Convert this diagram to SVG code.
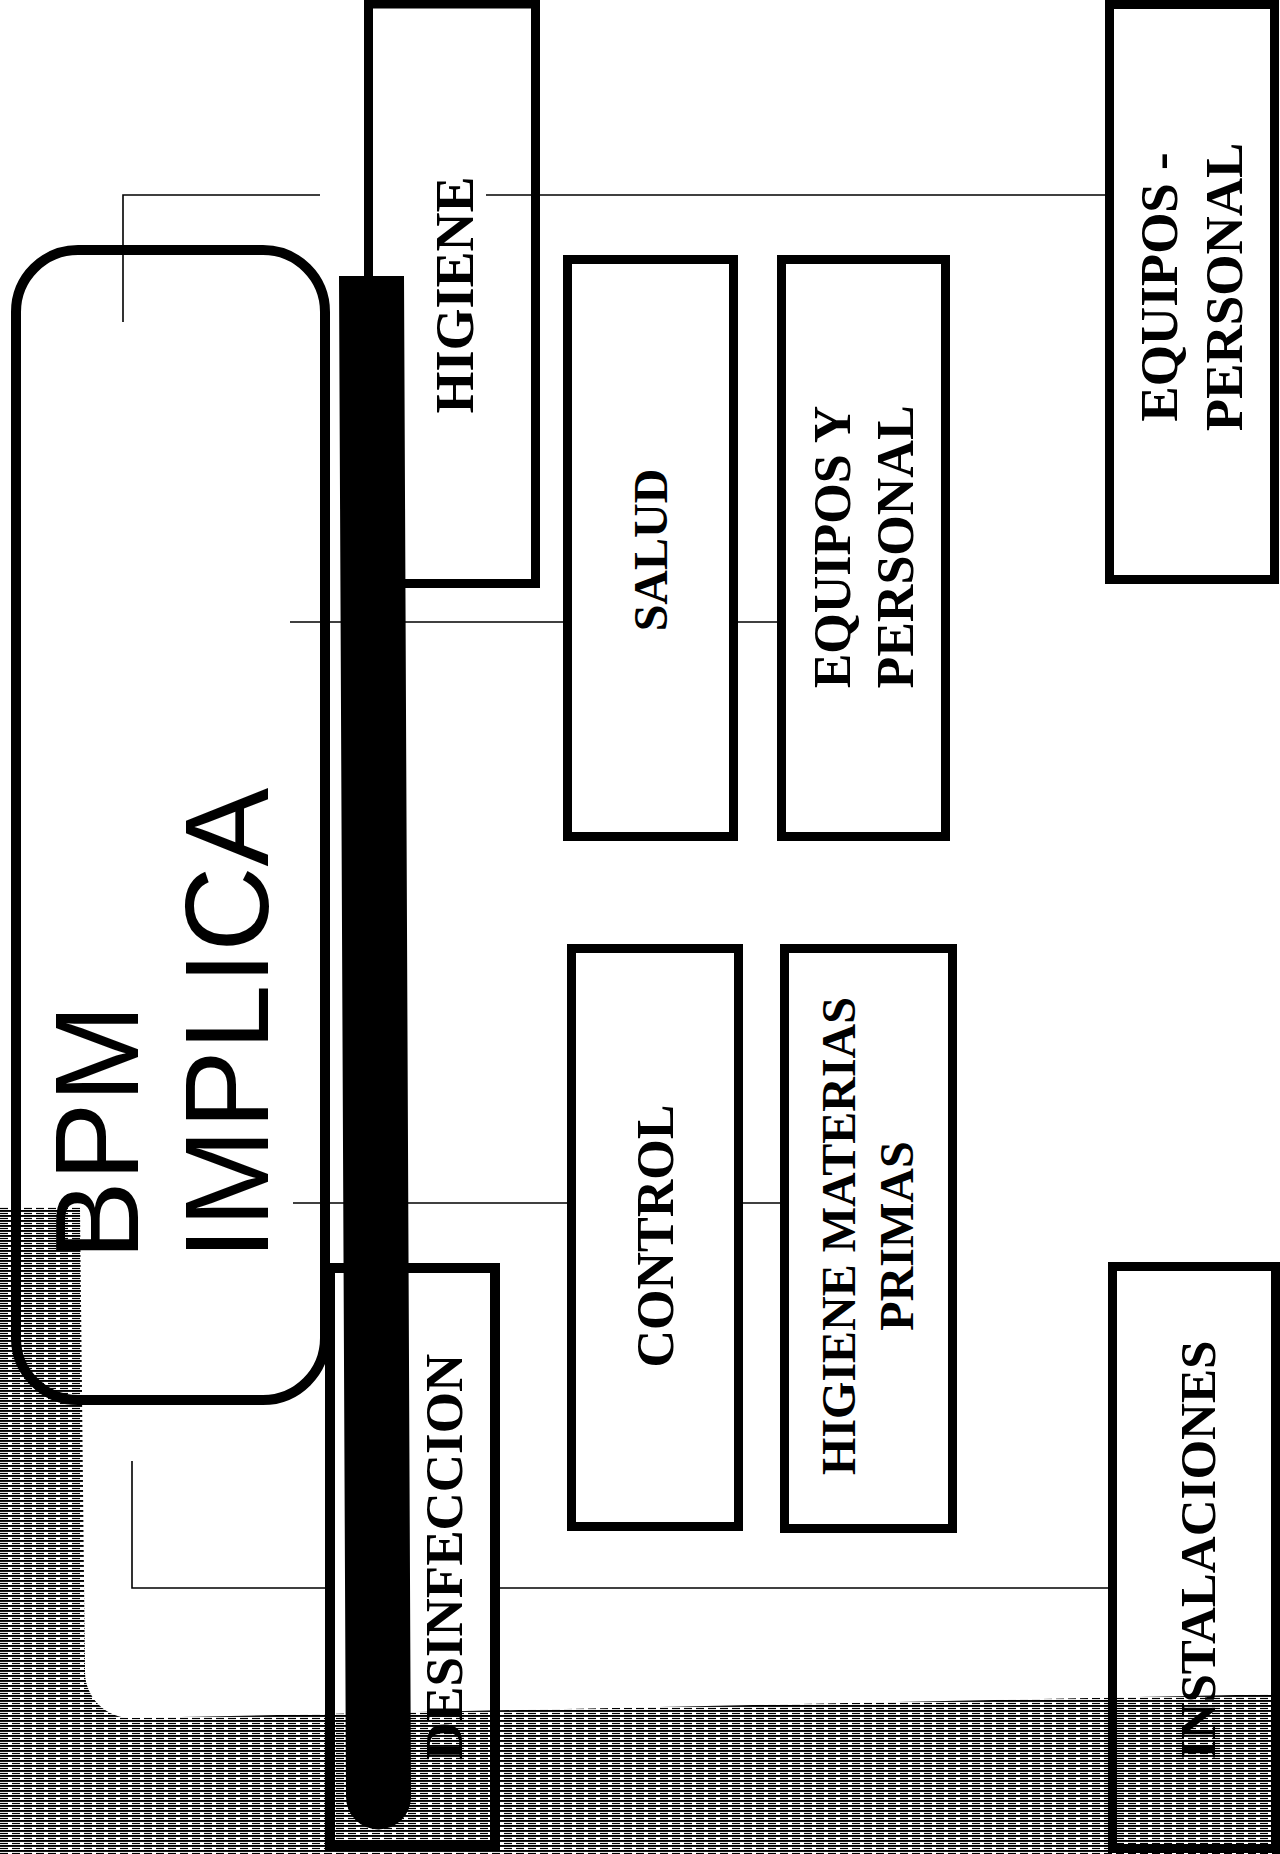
<svg xmlns="http://www.w3.org/2000/svg" width="1280" height="1854" viewBox="0 0 1280 1854">
<defs>
<pattern id="hatch" width="12" height="5" patternUnits="userSpaceOnUse">
<rect width="12" height="5" fill="#fff"/>
<rect x="0" y="0" width="12" height="1.9" fill="#000"/>
<rect x="0" y="2.9" width="8" height="1.2" fill="#000"/>
</pattern>
<style>
.box{fill:none;stroke:#000;stroke-width:9}
.lbl{font-family:"Liberation Serif","Times New Roman",serif;font-weight:bold;fill:#000;text-anchor:middle}
.conn{fill:none;stroke:#000;stroke-width:1.6}
.title{font-family:"Liberation Sans",Arial,sans-serif;font-size:118px;fill:#000}
</style>
</defs>
<g id="background">
<rect width="1280" height="1854" fill="#fff"/>
<path d="M0,1207 H80 L85,1672 A46,46 0 0 0 131,1718 L1280,1694 V1854 H0 Z" fill="url(#hatch)"/>
</g>
<g id="connectors">
<path class="conn" d="M123,322 V195 H320"/>
<path class="conn" d="M486,195 H1105"/>
<path class="conn" d="M290,622 H563"/>
<path class="conn" d="M738,622 H777"/>
<path class="conn" d="M293,1203 H567"/>
<path class="conn" d="M743,1203 H780"/>
<path class="conn" d="M132,1461 V1588 H325"/>
<path class="conn" d="M500,1588 H1108"/>
</g>
<g id="node-bpm">
<rect x="16" y="250" width="309" height="1150" rx="62" ry="62" fill="none" stroke="#000" stroke-width="10"/>
<text class="title" transform="translate(138,1260) rotate(-90)">BPM</text>
<text class="title" transform="translate(268,1260) rotate(-90)">IMPLICA</text>
</g>
<g id="node-higiene">
<rect class="box" x="368.5" y="4" width="167" height="579.5"/>
<text class="lbl" font-size="54" transform="translate(473,295) rotate(-90)">HIGIENE</text>
</g>
<g id="node-equipos-personal">
<rect class="box" x="1109.5" y="4.5" width="165" height="575"/>
<text class="lbl" font-size="53" transform="translate(1177,287) rotate(-90)"><tspan x="0" y="0">EQUIPOS -</tspan><tspan x="0" dy="65">PERSONAL</tspan></text>
</g>
<g id="node-salud">
<rect class="box" x="567.5" y="259.5" width="166" height="577"/>
<text class="lbl" font-size="48" transform="translate(667,550) rotate(-90)">SALUD</text>
</g>
<g id="node-equipos-y-personal">
<rect class="box" x="781.5" y="259.5" width="164" height="577"/>
<text class="lbl" font-size="52" transform="translate(850,547) rotate(-90)"><tspan x="0" y="0">EQUIPOS Y</tspan><tspan x="0" dy="63">PERSONAL</tspan></text>
</g>
<g id="node-control">
<rect class="box" x="571.5" y="948.5" width="167" height="578"/>
<text class="lbl" font-size="52" transform="translate(673,1236) rotate(-90)">CONTROL</text>
</g>
<g id="node-higiene-materias">
<rect class="box" x="784.5" y="948.5" width="168" height="580"/>
<text class="lbl" font-size="48" transform="translate(855,1236) rotate(-90)"><tspan x="0" y="0">HIGIENE MATERIAS</tspan><tspan x="0" dy="58">PRIMAS</tspan></text>
</g>
<g id="node-desinfeccion">
<rect x="330" y="1268" width="165" height="578" fill="none" stroke="#000" stroke-width="10"/>
<text class="lbl" font-size="53" transform="translate(462,1557) rotate(-90)">DESINFECCION</text>
</g>
<g id="node-instalaciones">
<rect class="box" x="1112.5" y="1266.5" width="163" height="582"/>
<text class="lbl" font-size="51" transform="translate(1215,1550) rotate(-90)">INSTALACIONES</text>
</g>
<g id="bar">
<path d="M339,276 H404 L411,1797 A32.5,32.5 0 0 1 346,1797 Z" fill="#000"/>
</g>
</svg>
